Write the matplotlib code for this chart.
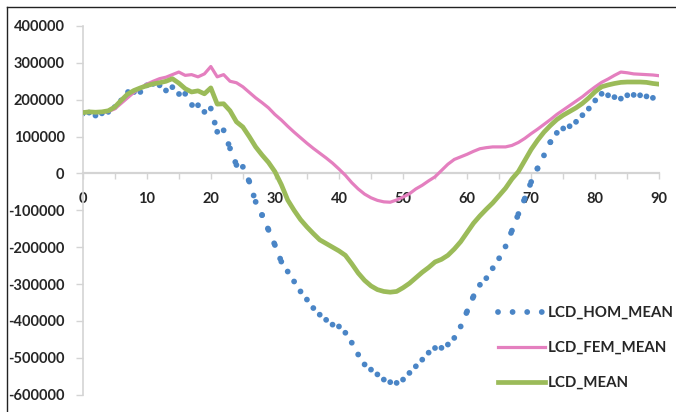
import matplotlib
matplotlib.use("Agg")
import matplotlib.pyplot as plt
from matplotlib.lines import Line2D

# values (x = 0..90)
x = list(range(91))

lcd_hom_mean = [
    162000, 165000, 157000, 163000, 167000, 180000, 198000, 221000, 221000, 221000,
    239000, 243000, 239000, 225000, 234000, 216000, 216000, 185000, 185000, 167000,
    176000, 113000, 117000, 68000, 23000, 18000, -22000, -77000, -113000, -153000,
    -194000, -239000, -266000, -293000, -320000, -342000, -365000, -383000, -397000, -410000,
    -415000, -432000, -459000, -491000, -518000, -532000, -545000, -559000, -566000, -568000,
    -559000, -541000, -523000, -505000, -486000, -473000, -473000, -464000, -446000, -415000,
    -374000, -333000, -302000, -284000, -257000, -230000, -198000, -155000, -110000, -68000,
    -23000, 14000, 49000, 85000, 110000, 122000, 128000, 140000, 158000, 176000,
    198000, 216000, 212000, 207000, 203000, 212000, 213000, 212000, 209000, 205000,
    203000,
]

lcd_fem_mean = [
    167000, 168000, 165000, 166000, 168000, 175000, 190000, 205000, 220000, 232000,
    242000, 250000, 257000, 261000, 268000, 275000, 266000, 268000, 262000, 270000,
    290000, 262000, 268000, 250000, 246000, 235000, 220000, 205000, 192000, 178000,
    160000, 145000, 128000, 112000, 97000, 82000, 68000, 55000, 42000, 28000,
    12000, -5000, -25000, -42000, -56000, -66000, -73000, -77000, -78000, -72000,
    -64000, -55000, -42000, -32000, -20000, -9000, 8000, 25000, 38000, 45000,
    52000, 60000, 67000, 70000, 72000, 72000, 72000, 76000, 84000, 95000,
    108000, 120000, 133000, 146000, 160000, 172000, 184000, 196000, 208000, 222000,
    235000, 247000, 256000, 266000, 275000, 273000, 270000, 269000, 268000, 267000,
    265000,
]

lcd_mean = [
    165000, 167000, 166000, 167000, 170000, 180000, 198000, 215000, 225000, 232000,
    238000, 243000, 246000, 250000, 257000, 245000, 230000, 221000, 224000, 216000,
    232000, 188000, 189000, 170000, 140000, 126000, 100000, 72000, 50000, 30000,
    5000, -30000, -72000, -100000, -125000, -145000, -163000, -180000, -190000, -200000,
    -210000, -222000, -245000, -270000, -290000, -305000, -315000, -320000, -322000, -320000,
    -310000, -298000, -283000, -268000, -255000, -240000, -233000, -222000, -205000, -185000,
    -160000, -135000, -115000, -97000, -80000, -60000, -40000, -15000, 5000, 35000,
    65000, 90000, 112000, 130000, 146000, 158000, 168000, 178000, 190000, 205000,
    222000, 235000, 240000, 244000, 247000, 248000, 248000, 248000, 247000, 244000,
    242000,
]

y_ticks = [400000, 300000, 200000, 100000, 0, -100000, -200000, -300000, -400000, -500000, -600000]
x_ticks = [0, 10, 20, 30, 40, 50, 60, 70, 80, 90]

blue = "#4a85c6"
pink = "#e47fbf"
green = "#9bbb59"
txt = "#262626"

plt.rcParams["font.family"] = ["Lato", "DejaVu Sans"]
plt.rcParams["axes.unicode_minus"] = False

fig = plt.figure(figsize=(6.76, 4.12), dpi=100)
ax = fig.add_axes([0.1223, 0.042, 0.853, 0.895])

dots = (0, (0.001, 2.5))
# Excel restarts the dot pattern at each segment
for i in range(len(x) - 1):
    ax.plot(x[i:i + 2], lcd_hom_mean[i:i + 2], color=blue, lw=4.2,
            linestyle=dots, dash_capstyle="round", zorder=2)
ax.plot(x, lcd_fem_mean, color=pink, lw=2.3, zorder=3)
ax.plot(x, lcd_mean, color=green, lw=3.4, zorder=4)

ax.set_xlim(0, 90)
ax.set_ylim(-600000, 400000)

for s in ["top", "right"]:
    ax.spines[s].set_visible(False)
ax.spines["bottom"].set_position(("data", 0))
ax.spines["bottom"].set_color("#d4d4d4")
ax.spines["bottom"].set_linewidth(1.6)
ax.spines["left"].set_color("#d4d4d4")
ax.spines["left"].set_linewidth(1.2)

ax.set_yticks(y_ticks)
ax.set_yticklabels([str(v) for v in y_ticks])
ax.set_xticks(x_ticks)
ax.set_xticklabels([str(v) for v in x_ticks])
ax.set_xticks(range(5, 90, 10), minor=True)
ax.tick_params(axis="y", direction="out", length=5, width=1, color="#d4d4d4",
               pad=8, labelsize=10.5, labelcolor=txt)
ax.tick_params(axis="x", which="both", direction="out", length=4, width=1,
               color="#d4d4d4", pad=9, labelsize=10.5, labelcolor=txt)
for lab in ax.get_xticklabels() + ax.get_yticklabels():
    lab.set_fontweight("bold")

handles = [
    Line2D([0], [0], color=blue, lw=4.2, linestyle=dots, dash_capstyle="round"),
    Line2D([0], [0], color=pink, lw=2.3),
    Line2D([0], [0], color=green, lw=3.4),
]
leg = fig.legend(handles, ["LCD_HOM_MEAN", "LCD_FEM_MEAN", "LCD_MEAN"],
                 loc="upper left", bbox_to_anchor=(0.737, 0.257), frameon=False,
                 borderpad=0, borderaxespad=0, handlelength=3.1, handletextpad=0.2,
                 labelspacing=1.4, prop={"size": 10.8, "weight": "bold"})
for t in leg.get_texts():
    t.set_color(txt)

# outer frame of the original screenshot
fig.add_artist(Line2D([0.0104, 1.0], [0.983, 0.983], color="#222222", lw=1.0))
fig.add_artist(Line2D([0.0104, 0.0104], [0.0, 0.983], color="#222222", lw=1.0))

fig.savefig("out.png", dpi=100)
